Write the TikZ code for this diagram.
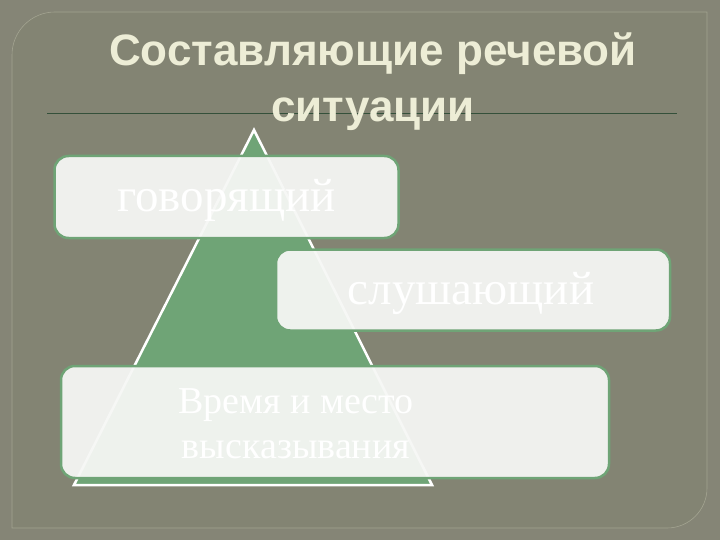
\documentclass[tikz,border=0pt]{standalone}
\usepackage{fontspec}
\usepackage{xcolor}
\setmainfont{Liberation Serif}
\newfontfamily\titlefont{Liberation Sans}

\definecolor{bgouter}{HTML}{858576}
\definecolor{bgpanel}{HTML}{838473}
\definecolor{panelrim}{HTML}{A3A491}
\definecolor{titlecol}{HTML}{EDEDD6}
\definecolor{rulecol}{HTML}{34503A}
\definecolor{pyrgreen}{HTML}{6FA476}
\definecolor{boxfill}{HTML}{F6F7F5}
\definecolor{itemwhite}{HTML}{FFFFFF}

\tikzset{
  itembox/.style={rectangle,rounded corners=14pt,draw=pyrgreen,line width=2.5pt,
    fill=boxfill,fill opacity=0.94,inner sep=0pt},
  itemtext/.style={text=itemwhite,text opacity=1,fill opacity=1,
    font=\fontsize{47}{45}\selectfont,align=center,inner sep=0pt}
}

\begin{document}
\begin{tikzpicture}[x=1pt,y=-1pt]
                        \useasboundingbox (0,0) rectangle (720,540);
                        \fill[bgouter] (0,0) rectangle (720,540);
                        % panel with two rounded corners
                        \draw[panelrim,fill=bgpanel,line width=0.6pt]
                          (12,528) -- (12,200) [rounded corners=43pt] -- (12,12) -- (400,12) [sharp corners]
                          -- (707,12) -- (707,300) [rounded corners=40pt] -- (707,528) -- (300,528) [sharp corners] -- cycle;

                        \coordinate (rl) at (47,113);
                        \coordinate (rr) at (677,113);
                    \draw[rulecol,line width=0.8pt] (rl) -- (rr);

                        \node (title) at (373,82) [text=titlecol,align=center,inner sep=0pt,
                          font=\titlefont\bfseries\fontsize{44}{56}\selectfont] {Составляющие речевой\\ситуации};

                        % pyramid
                        \coordinate (top) at (254,130);
                        \coordinate (bl) at (74,485);
                        \coordinate (br) at (432,485);
                    \draw[white,fill=pyrgreen,line width=2.5pt,line join=miter] (top) -- (br) -- (bl) -- cycle;

                        \node (gov) at (226.5,197) [itembox,minimum width=344pt,minimum height=82pt] {};
                        \node (slush) at (473,290) [itembox,minimum width=394pt,minimum height=81pt] {};
                        \node (vrem) at (335,422) [itembox,minimum width=548pt,minimum height=112pt] {};

                        \node (govtxt) at (226.5,200) [itemtext] {говорящий};
                        \node (slushtxt) at (471,293) [itemtext] {слушающий};
                        \node (vremtxt) at (296,424) [itemtext,font=\fontsize{38}{45}\selectfont]
                          {Время и место\\высказывания};
                \end{tikzpicture}
\end{document}
